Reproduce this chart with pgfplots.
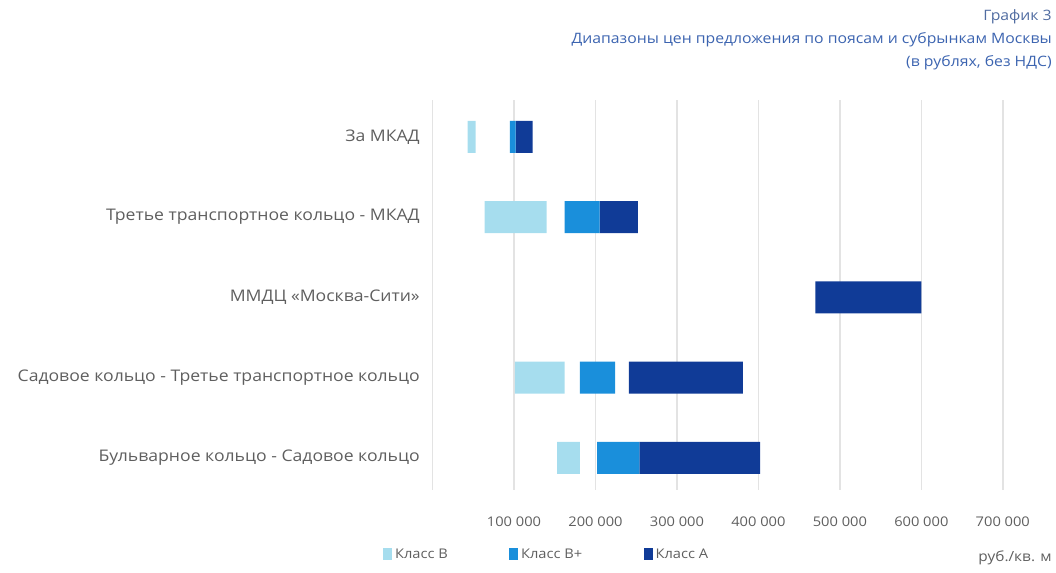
\documentclass[border=0pt]{standalone}
\usepackage{pgfplots}
\pgfplotsset{compat=1.18}
\usepackage{pgfplotstable}
\usepackage{fontspec}
\setmainfont{Open Sans}[FakeStretch=1.1]

\definecolor{clsB}{HTML}{A6DDEE}
\definecolor{clsBp}{HTML}{1A8FDB}
\definecolor{clsA}{HTML}{103B97}
\definecolor{gridc}{HTML}{E3E3E3}
\definecolor{labc}{HTML}{5F5F5F}
\definecolor{titc}{HTML}{3C64B0}

% price ranges, rub per sq. m: start and end of each class
% y: 0 = bottom row, 4 = top row
\pgfplotstableread{
y Bmin   Bmax   Pmin   Pmax   Amin   Amax
4 43000  53000  95000  102000 102000 123000
3 64000  140000 162000 205000 205000 252000
2 470000 470000 470000 470000 470000 600000
1 101000 162000 181000 224000 241000 381000
0 153000 181000 202000 254000 254000 402000
}\prices

\begin{document}
\begin{tikzpicture}[x=1pt,y=1pt]
\path (-324.4pt,-61.5pt) rectangle (467.6pt,367.5pt);
\begin{axis}[
  scale only axis,
  width=458.25pt, height=292.5pt,
  at={(0,0)}, anchor=south west,
  xbar stacked, bar width=24pt,
  xmin=0, xmax=750000,
  ymin=-0.4, ymax=4.46,
  scaled x ticks=false,
  axis line style={draw=none},
  major tick length=0pt,
  xtick={0,100000,200000,300000,400000,500000,600000,700000},
  xticklabels={,100 000,200 000,300 000,400 000,500 000,600 000,700 000},
  xmajorgrids, grid style={gridc, line width=1.1pt},
  xticklabel style={anchor=center, yshift=-24pt, font=\fontsize{10}{12}\selectfont, text=labc},
  ytick={0,1,2,3,4},
  yticklabels={Бульварное кольцо - Садовое кольцо,
               Садовое кольцо - Третье транспортное кольцо,
               ММДЦ «Москва-Сити»,
               Третье транспортное кольцо - МКАД,
               За МКАД},
  yticklabel style={anchor=east, inner sep=0pt, xshift=-9.4pt, font=\fontsize{12}{14}\selectfont, text=labc},
  legend columns=3,
  legend style={at={(-0.088,-0.165)}, anchor=west, draw=none, fill=none,
    font=\fontsize{10}{12}\selectfont, text=labc,
    /tikz/every even column/.append style={column sep=44pt}},
  legend image code/.code={\fill[#1] (0pt,-4.5pt) rectangle (7pt,4.5pt);},
]
\addplot[draw=none, fill=none, forget plot] table[x=Bmin, y=y] {\prices};
\addplot[draw=none, fill=clsB] table[x expr=\thisrow{Bmax}-\thisrow{Bmin}, y=y] {\prices};
\addplot[draw=none, fill=none, forget plot] table[x expr=\thisrow{Pmin}-\thisrow{Bmax}, y=y] {\prices};
\addplot[draw=none, fill=clsBp] table[x expr=\thisrow{Pmax}-\thisrow{Pmin}, y=y] {\prices};
\addplot[draw=none, fill=none, forget plot] table[x expr=\thisrow{Amin}-\thisrow{Pmax}, y=y] {\prices};
\addplot[draw=none, fill=clsA] table[x expr=\thisrow{Amax}-\thisrow{Amin}, y=y] {\prices};
\legend{Класс В, Класс В+, Класс А}
\end{axis}
\node[anchor=east, inner sep=0pt, text=labc, font=\fontsize{10.5}{12}\selectfont] at (464.6pt,-51pt) {руб./кв. м};
\node[anchor=east, inner sep=0pt, text=titc!70!gray, font=\fontsize{10.75}{12}\selectfont] at (464.6pt,354.75pt) {График 3};
\node[anchor=east, inner sep=0pt, text=titc, font=\fontsize{10.75}{12}\selectfont] at (464.6pt,337.5pt) {Диапазоны цен предложения по поясам и субрынкам Москвы};
\node[anchor=east, inner sep=0pt, text=titc, font=\fontsize{10.75}{12}\selectfont] at (464.6pt,320.25pt) {(в рублях, без НДС)};
\end{tikzpicture}
\end{document}
